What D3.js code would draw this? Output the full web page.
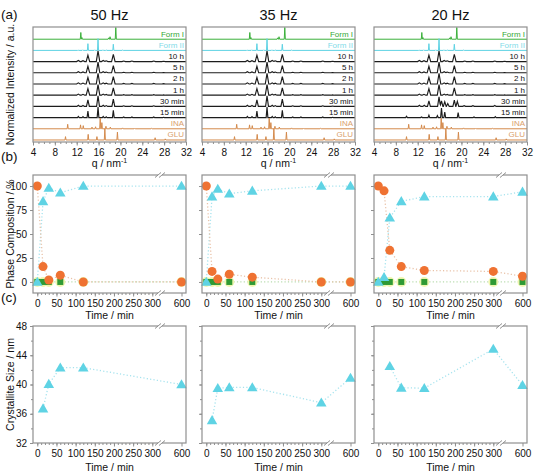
<!DOCTYPE html>
<html><head><meta charset="utf-8">
<script src="https://cdn.jsdelivr.net/npm/d3@7"></script>
<style>body{margin:0;background:#fff} svg{display:block;font-family:"Liberation Sans",Arial,sans-serif}</style>
</head><body><svg id="c" width="534" height="474"></svg>
<script>
// ---------------- data ----------------
const panelTitles = ["50 Hz", "35 Hz", "20 Hz"];
const traceLabels = ["Form I", "Form II", "10 h", "5 h", "2 h", "1 h", "30 min", "15 min", "INA", "GLU"];
const qTicks = [4, 8, 12, 16, 20, 24, 28, 32];
const timeTicks = [0, 50, 100, 150, 200, 250, 300, 600];
const compTicks = [0, 25, 50, 75, 100];
const sizeTicks = [32, 36, 40, 44, 48];

// XRD peak lists: [q (nm^-1), normalized height]
const peaksFormI = [[12.75, 0.6], [12.95, 0.15], [17.85, 0.12], [18.1, 0.22], [19.15, 1.05]];
const peaksFormII = [[12.25, 0.04], [13.1, 0.05], [14.05, 0.6], [15.3, 0.05], [15.9, 1.05], [16.8, 0.05], [17.4, 0.04], [18.7, 0.55], [20.4, 0.03]];
const peaksMilled = [[12.3, 0.1], [13.15, 0.08], [14.05, 0.58], [15.9, 0.95], [16.85, 0.1], [17.4, 0.07], [18.7, 0.65], [20.6, 0.05], [22.1, 0.05], [26.1, 0.05], [27.9, 0.03]];
const peaksMix30 = [[12.3, 0.1], [13.2, 0.1], [14.05, 0.5], [15.9, 0.85], [16.35, 0.5], [16.95, 0.42], [17.5, 0.25], [18.7, 0.55], [19.25, 0.45], [20.5, 0.06], [22.1, 0.06], [26.1, 0.08]];
const peaksMix15 = [[9.95, 0.12], [12.7, 0.05], [14.05, 0.22], [15.6, 0.18], [16.35, 0.85], [16.95, 0.5], [19.4, 0.45], [22.3, 0.05], [26.2, 0.08]];
const peaksINA = [[10.35, 0.4], [12.7, 0.35], [13.2, 0.28], [14.8, 0.15], [15.45, 0.18], [16.3, 0.95], [16.6, 0.55], [17.35, 0.22], [18.15, 0.15], [20.4, 0.08], [22.6, 0.05], [25.7, 0.04]];
const peaksGLU = [[9.95, 0.3], [14.1, 0.5], [15.7, 0.3], [17.15, 1.0], [19.45, 0.7], [26.35, 0.2], [28.2, 0.1]];

const patterns50 = [peaksFormI, peaksFormII, peaksMilled, peaksMilled, peaksMilled, peaksMilled, peaksMilled, peaksMilled, peaksINA, peaksGLU];
const patterns35 = [peaksFormI, peaksFormII, peaksMilled, peaksMilled, peaksMilled, peaksMilled, peaksMilled, peaksMilled, peaksINA, peaksGLU];
const patterns20 = [peaksFormI, peaksFormII, peaksMilled, peaksMilled, peaksMilled, peaksMilled, peaksMix30, peaksMix15, peaksINA, peaksGLU];

// Phase composition (%)
const times50 = [0, 15, 30, 60, 120, 600];
const reactant50 = [100, 16, 2, 7, 0, 0];
const formII50 = [0, 84, 98, 93, 100, 100];
const formI50 = [0, 0, 0, 0, 0, 0];
const times35 = [0, 15, 30, 60, 120, 300, 600];
const reactant35 = [100, 11, 3, 8, 5, 0, 0];
const formII35 = [0, 89, 97, 92, 95, 100, 100];
const formI35 = [0, 0, 0, 0, 0, 0, 0];
const times20 = [0, 15, 30, 60, 120, 300, 600];
const reactant20 = [100, 95, 33, 16, 12, 11, 6];
const formII20 = [0, 5, 67, 84, 89, 89, 94];
const formI20 = [0, 0, 0, 0, 0, 0, 0];

// Crystallite size (nm)
const sizeTimes50 = [15, 30, 60, 120, 600];
const size50 = [36.7, 40.05, 42.3, 42.3, 40.0];
const sizeTimes35 = [15, 30, 60, 120, 300, 600];
const size35 = [35.1, 39.5, 39.6, 39.6, 37.5, 40.9];
const sizeTimes20 = [30, 60, 120, 300, 600];
const size20 = [42.5, 39.55, 39.5, 44.85, 39.9];

// ---------------- drawing ----------------
const svg = d3.select("#c");
const lefts = [33, 202, 374];
const W = 153;
const frame = "#8f8f8f";
const cGreen = "#3bb03b", cCyan = "#5fd3e4", cTan = "#d48a4c", cBlack = "#1c1c1c";
const labelColors = ["#35a835", "#7fdbe8", "#111", "#111", "#111", "#111", "#111", "#111", "#d9a06c", "#d9a06c"];
const traceColors = [cGreen, cCyan, cBlack, cBlack, cBlack, cBlack, cBlack, cBlack, cTan, cTan];
const traceHW = [0.1, 0.1, 0.32, 0.32, 0.32, 0.32, 0.26, 0.16, 0.1, 0.1];
const traceSW = [1, 1, 1.15, 1.15, 1.15, 1.15, 1.15, 1.15, 1, 1];

const allPatterns = [patterns50, patterns35, patterns20];
const compData = [[times50, reactant50, formII50, formI50], [times35, reactant35, formII35, formI35], [times20, reactant20, formII20, formI20]];
const sizeData = [[sizeTimes50, size50], [sizeTimes35, size35], [sizeTimes20, size20]];

function tracePoints(peaks, hw) {
  const xs = new Set([4, 32]);
  peaks.forEach(([q]) => { xs.add(q - hw); xs.add(q); xs.add(q + hw); });
  const arr = [...xs].filter(x => x >= 4 && x <= 32).sort((a, b) => a - b);
  return arr.map(x => [x, d3.sum(peaks, ([q, h]) => Math.max(0, h * (1 - Math.abs(x - q) / hw)))]);
}

function styleAxis(g) {
  g.select(".domain").remove();
  g.attr("font-family", null);
  g.selectAll(".tick line").attr("stroke", frame);
  g.selectAll(".tick text").attr("fill", "#111").style("font-size", "10px").style("font-family", "Liberation Sans, Arial, sans-serif");
}

const aTop = 27, aBot = 142;
const yA = d3.scaleLinear().domain([-0.18, 10.09]).range([aBot, aTop]);
const bTop = 175, bBot = 293;
const yB = d3.scaleLinear().domain([-11.5, 111.5]).range([bBot, bTop]);
const cTop = 326, cBot = 443;
const yC = d3.scaleLinear().domain([32, 48]).range([cBot, cTop]);

function breakMark(g, x, yTop, yBot) {
  [yTop, yBot].forEach(y => {
    g.append("rect").attr("x", x - 2).attr("y", y - 2).attr("width", 4).attr("height", 4).attr("fill", "#fff");
    [-2, 2].forEach(dx => {
      g.append("line").attr("x1", x + dx - 3).attr("y1", y + 2.5).attr("x2", x + dx + 3).attr("y2", y - 2.5)
        .attr("stroke", frame).attr("stroke-width", 1);
    });
  });
}

lefts.forEach((L, p) => {
  // ---- panel (a)
  const xA = d3.scaleLinear().domain([4, 32]).range([L, L + W]);
  svg.append("text").attr("x", L + W / 2).attr("y", 20).attr("text-anchor", "middle")
    .style("font-size", "14.5px").attr("fill", "#111").text(panelTitles[p]);
  const clipId = "clipA" + p;
  svg.append("clipPath").attr("id", clipId).append("rect").attr("x", L).attr("y", aTop).attr("width", W).attr("height", aBot - aTop);
  const gA = svg.append("g").attr("clip-path", `url(#${clipId})`);
  const line = d3.line().x(d => xA(d[0]));
  allPatterns[p].forEach((pk, i) => {
    const base = 9 - i;
    gA.append("path").datum(tracePoints(pk, traceHW[i]))
      .attr("d", line.y(d => yA(base + d[1])))
      .attr("fill", "none").attr("stroke", traceColors[i]).attr("stroke-width", traceSW[i]);
    svg.append("text").attr("x", L + W - 2).attr("y", yA(base) - 2.5).attr("text-anchor", "end")
      .style("font-size", "8px").attr("fill", labelColors[i]).text(traceLabels[i]);
  });
  svg.append("rect").attr("x", L).attr("y", aTop).attr("width", W).attr("height", aBot - aTop)
    .attr("fill", "none").attr("stroke", frame).attr("stroke-width", 1.2);
  svg.append("g").attr("transform", `translate(0,${aBot})`)
    .call(d3.axisBottom(xA).tickValues(d3.range(4, 33, 1)).tickSize(2).tickFormat(""))
    .call(styleAxis);
  svg.append("g").attr("transform", `translate(0,${aBot})`)
    .call(d3.axisBottom(xA).tickValues(qTicks).tickSizeInner(3.5).tickSizeOuter(0).tickPadding(3))
    .call(styleAxis);
  svg.append("text").attr("x", L + W / 2).attr("y", 167).attr("text-anchor", "middle")
    .style("font-size", "10.5px").attr("fill", "#111")
    .html('q / nm<tspan dy="-4" font-size="7px">-1</tspan>');

  // ---- shared time scale (with axis break)
  const xT = d3.scaleLinear().domain([-11.2, 300, 600, 612]).range([L, L + 119.3, L + 148.5, L + W]);
  const brk = L + 127;

  // ---- panel (b)
  const [tt, rr, f2, f1] = compData[p];
  const gB = svg.append("g");
  const pts = (vals) => tt.map((t, i) => [xT(t), yB(vals[i])]);
  const dotted = (data, color) => gB.append("path").attr("d", d3.line()(data)).attr("fill", "none")
    .attr("stroke", color).attr("stroke-width", 1.3).attr("stroke-dasharray", "1.2,2.2");
  dotted(pts(f1), "#b8dcae");
  dotted(pts(f2), "#a6e3ee");
  dotted(pts(rr), "#e9c2a8");
  pts(f1).forEach(([x, y]) => gB.append("circle").attr("cx", x).attr("cy", y).attr("r", 5).attr("fill", "#eef5a8").attr("opacity", 0.9));
  pts(f1).forEach(([x, y]) => gB.append("path").attr("d", d3.symbol(d3.symbolSquare, 36)()).attr("transform", `translate(${x},${y})`).attr("fill", "#2f9a34"));
  pts(f2).forEach(([x, y]) => gB.append("path").attr("d", d3.symbol(d3.symbolTriangle, 48)()).attr("transform", `translate(${x},${y + 0.8})`).attr("fill", cCyan));
  pts(rr).forEach(([x, y]) => gB.append("circle").attr("cx", x).attr("cy", y).attr("r", 4.5).attr("fill", "#ef7232"));
  svg.append("rect").attr("x", L).attr("y", bTop).attr("width", W).attr("height", bBot - bTop)
    .attr("fill", "none").attr("stroke", frame).attr("stroke-width", 1.2);
  svg.append("g").attr("transform", `translate(0,${bBot})`)
    .call(d3.axisBottom(xT).tickValues(d3.range(0, 301, 10)).tickSize(2).tickFormat("")).call(styleAxis);
  svg.append("g").attr("transform", `translate(0,${bBot})`)
    .call(d3.axisBottom(xT).tickValues(timeTicks).tickSizeInner(3.5).tickSizeOuter(0).tickPadding(3)).call(styleAxis);
  const yAxB = d3.axisLeft(yB).tickValues(compTicks).tickSizeInner(3).tickSizeOuter(0).tickPadding(3);
  if (p > 0) yAxB.tickFormat("");
  svg.append("g").attr("transform", `translate(${L},0)`).call(yAxB).call(styleAxis);
  breakMark(svg, brk, bTop, bBot);
  svg.append("text").attr("x", L + W / 2).attr("y", 319).attr("text-anchor", "middle")
    .style("font-size", "10.5px").attr("fill", "#111").text("Time / min");

  // ---- panel (c)
  const [st, sv] = sizeData[p];
  const gC = svg.append("g");
  const cp = st.map((t, i) => [xT(t), yC(sv[i])]);
  gC.append("path").attr("d", d3.line()(cp)).attr("fill", "none").attr("stroke", "#a6e3ee")
    .attr("stroke-width", 1.3).attr("stroke-dasharray", "1.2,2.2");
  cp.forEach(([x, y]) => gC.append("path").attr("d", d3.symbol(d3.symbolTriangle, 48)()).attr("transform", `translate(${x},${y + 0.8})`).attr("fill", cCyan));
  svg.append("rect").attr("x", L).attr("y", cTop).attr("width", W).attr("height", cBot - cTop)
    .attr("fill", "none").attr("stroke", frame).attr("stroke-width", 1.2);
  svg.append("g").attr("transform", `translate(0,${cBot})`)
    .call(d3.axisBottom(xT).tickValues(d3.range(0, 301, 10)).tickSize(2).tickFormat("")).call(styleAxis);
  svg.append("g").attr("transform", `translate(0,${cBot})`)
    .call(d3.axisBottom(xT).tickValues(timeTicks).tickSizeInner(3.5).tickSizeOuter(0).tickPadding(3)).call(styleAxis);
  svg.append("g").attr("transform", `translate(${L},0)`)
    .call(d3.axisLeft(yC).tickValues(d3.range(32, 49, 2)).tickSize(2).tickFormat("")).call(styleAxis);
  const yAxC = d3.axisLeft(yC).tickValues(sizeTicks).tickSizeInner(3).tickSizeOuter(0).tickPadding(3);
  if (p > 0) yAxC.tickFormat("");
  svg.append("g").attr("transform", `translate(${L},0)`).call(yAxC).call(styleAxis);
  breakMark(svg, brk, cTop, cBot);
  svg.append("text").attr("x", L + W / 2).attr("y", 471).attr("text-anchor", "middle")
    .style("font-size", "10.5px").attr("fill", "#111").text("Time / min");
});

// y titles
[["Normalized Intensity / a.u.", (aTop + aBot) / 2], ["Phase Composition / %", (bTop + bBot) / 2], ["Crystallite Size / nm", (cTop + cBot) / 2]]
  .forEach(([t, y]) => svg.append("text").attr("transform", `translate(14,${y}) rotate(-90)`).attr("text-anchor", "middle")
    .style("font-size", "10.5px").attr("fill", "#111").text(t));
// panel letters
[["(a)", 19], ["(b)", 161], ["(c)", 302]].forEach(([t, y]) =>
  svg.append("text").attr("x", 1).attr("y", y).style("font-size", "13.5px").attr("fill", "#111").text(t));
</script></body></html>
